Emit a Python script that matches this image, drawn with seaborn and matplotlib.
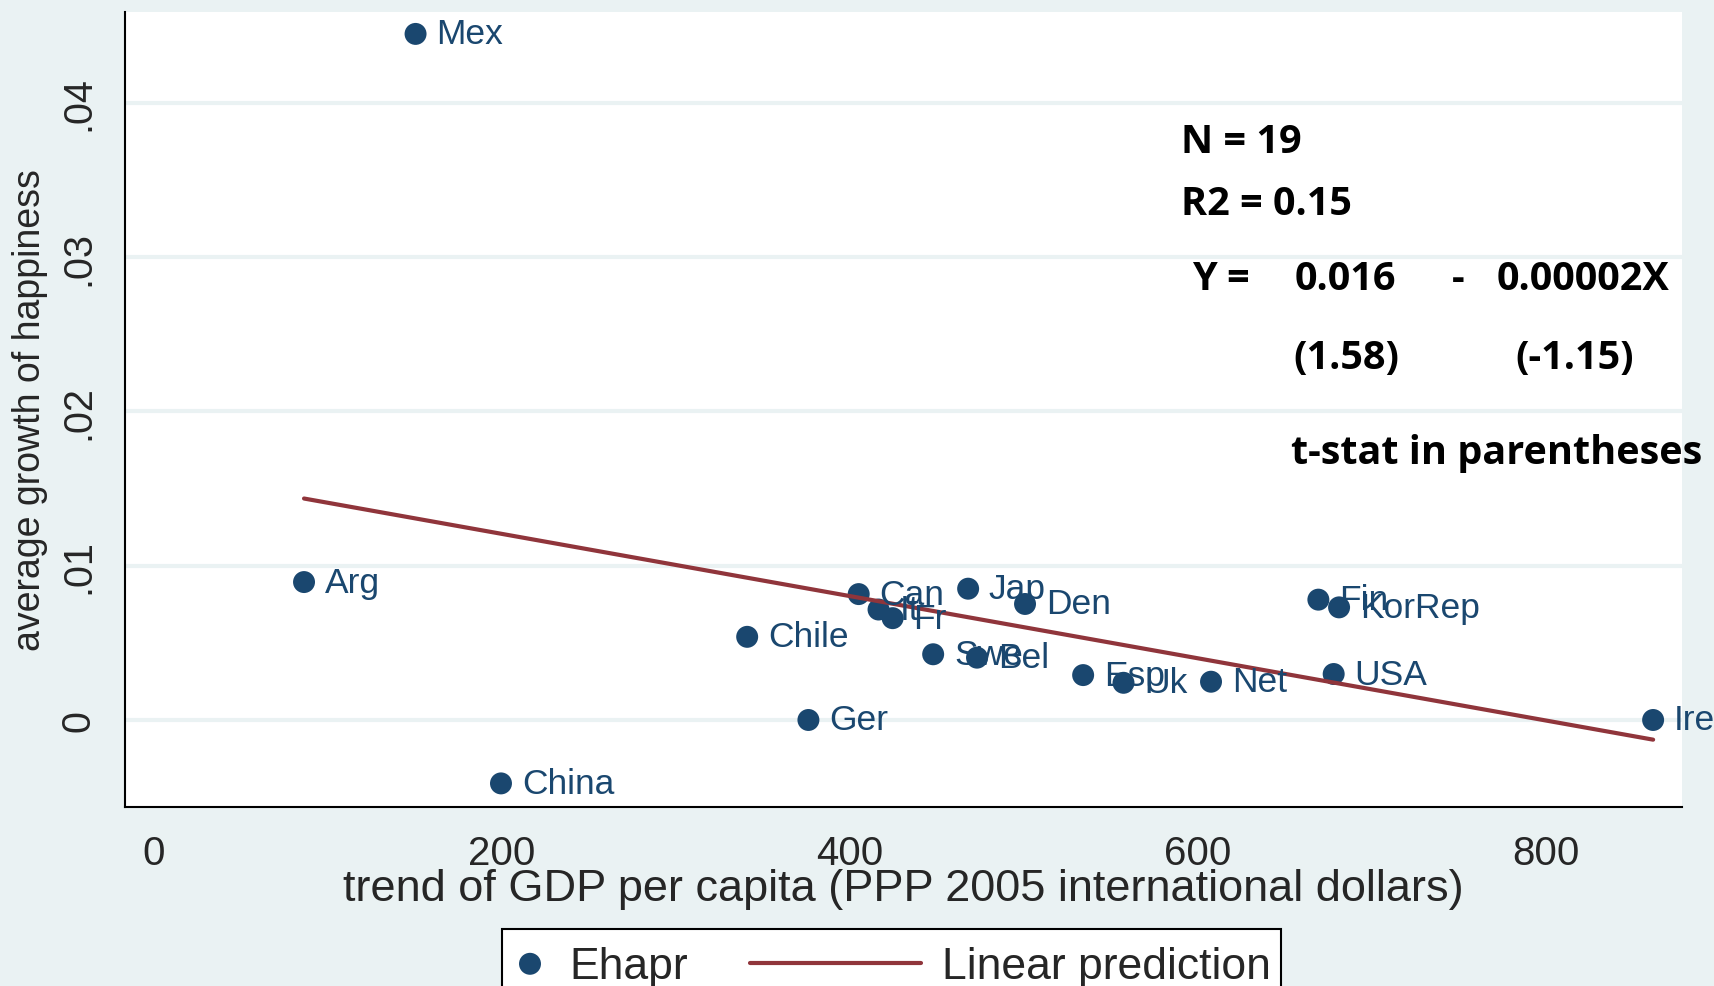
import matplotlib
matplotlib.use("Agg")
import matplotlib.pyplot as plt
import seaborn as sns
import pandas as pd
from matplotlib.lines import Line2D
from matplotlib.legend_handler import HandlerBase

# Country observations: trend GDP per capita vs. average happiness growth
countries = ["Mex", "Arg", "China", "Chile", "Ger", "Can", "It", "Fr", "Swe", "Jap",
             "Bel", "Den", "Esp", "Uk", "Net", "Fin", "KorRep", "USA", "Ire"]
gdp_trend = [150.3, 86.2, 199.4, 340.9, 376.1, 405.0, 416.4, 424.5, 447.8, 467.9,
             473.0, 500.6, 534.0, 557.2, 607.5, 669.2, 681.1, 678.0, 861.6]
happiness_growth = [0.04447, 0.00894, -0.00411, 0.00539, 0.0, 0.00816, 0.00716, 0.0066,
                    0.00426, 0.00851, 0.00404, 0.00752, 0.00291, 0.00241, 0.00248,
                    0.0078, 0.0073, 0.00298, 0.0]

x_ticks = [0, 200, 400, 600, 800]
y_ticks = [0, 0.01, 0.02, 0.03, 0.04]
y_tick_labels = ["0", ".01", ".02", ".03", ".04"]

x_title = "trend of GDP per capita (PPP 2005 international dollars)"
y_title = "average growth of happiness"
series_name = "Ehapr"
fit_name = "Linear prediction"

stats_lines = ["N = 19", "R2 = 0.15"]
eq_parts = ["Y =", "0.016", "-", "0.00002X"]
tstat_parts = ["(1.58)", "(-1.15)"]
tstat_note = "t-stat in parentheses"

df = pd.DataFrame({"country": countries, "gdp": gdp_trend, "hap": happiness_growth})

BG = "#eaf2f3"
NAVY = "#1a476f"
MAROON = "#90353b"

sns.set_style("white")
plt.rcParams["font.family"] = ["Liberation Sans", "DejaVu Sans"]

W, H = 1715, 987
fig = plt.figure(figsize=(W / 100, H / 100), dpi=100, facecolor=BG)
ax = fig.add_axes([125 / W, 1 - 808 / H, (1682 - 125) / W, (808 - 13) / H])
ax.set_facecolor("white")

sns.scatterplot(data=df, x="gdp", y="hap", color=NAVY, s=250, edgecolor="none",
                ax=ax, legend=False, zorder=3)
sns.regplot(data=df, x="gdp", y="hap", scatter=False, ci=None, truncate=True, ax=ax,
            line_kws=dict(color=MAROON, lw=3, zorder=4))

for name, xv, yv in zip(df["country"], df["gdp"], df["hap"]):
    ax.annotate(name, (xv, yv), xytext=(15, 0), textcoords="offset points",
                ha="left", va="center", fontsize=25.5, color=NAVY, zorder=5)

ax.set_xlim(-16.7, 878.2)
ax.set_ylim(-0.00564, 0.04589)

ax.set_xticks(x_ticks)
ax.set_yticks(y_ticks, y_tick_labels, rotation=90, va="center")
ax.tick_params(axis="x", length=11.5, width=1.5, pad=8, labelsize=29, color="black")
ax.tick_params(axis="y", length=13, width=1.5, pad=7, labelsize=28.5, color="black")

ax.set_axisbelow(True)
ax.yaxis.grid(True, color=BG, lw=3)
ax.xaxis.grid(False)

for side in ["top", "right"]:
    ax.spines[side].set_visible(False)
for side in ["left", "bottom"]:
    ax.spines[side].set_color("black")
    ax.spines[side].set_linewidth(1.5)

ax.set_xlabel(x_title, fontsize=32.5, va="center")
ax.xaxis.set_label_coords(0.5, (808 - 890) / (808 - 13))
ax.set_ylabel(y_title, fontsize=27, va="center")
ax.yaxis.set_label_coords((30 - 125) / (1682 - 125), 0.5)

# Regression statistics block
bold = dict(family=["Open Sans", "DejaVu Sans"], fontweight="bold", fontsize=28.5,
            color="black")
fig.text(1181 / W, 1 - 153 / H, stats_lines[0], ha="left", va="baseline", **bold)
fig.text(1181 / W, 1 - 215 / H, stats_lines[1], ha="left", va="baseline", **bold)
fig.text(1192 / W, 1 - 290 / H, eq_parts[0], ha="left", va="baseline", **bold)
fig.text(1295 / W, 1 - 290 / H, eq_parts[1], ha="left", va="baseline", **bold)
fig.text(1458 / W, 1 - 290 / H, eq_parts[2], ha="center", va="baseline", **bold)
fig.text(1497 / W, 1 - 290 / H, eq_parts[3], ha="left", va="baseline", **bold)
fig.text(1293 / W, 1 - 369 / H, tstat_parts[0], ha="left", va="baseline", **bold)
fig.text(1515 / W, 1 - 369 / H, tstat_parts[1], ha="left", va="baseline", **bold)
fig.text(1291 / W, 1 - 464 / H, tstat_note, ha="left", va="baseline", **bold)


class WideLineHandler(HandlerBase):
    """Legend line that stretches further left than its handle box."""

    def __init__(self, extra):
        super().__init__()
        self.extra = extra

    def create_artists(self, legend, orig_handle, xdescent, ydescent, width, height,
                       fontsize, trans):
        y = height / 2 - ydescent
        x0 = -xdescent - self.extra * fontsize
        x1 = -xdescent + width
        line = Line2D([x0, x1], [y, y], color=orig_handle.get_color(),
                      lw=orig_handle.get_linewidth())
        line.set_transform(trans)
        return [line]


scatter_handle = ax.collections[0]
fit_handle = ax.lines[0]
leg = ax.legend([scatter_handle, fit_handle], [series_name, fit_name],
                handler_map={fit_handle: WideLineHandler(3.05)},
                loc="upper left", bbox_to_anchor=(502 / W, 1 - 930 / H),
                bbox_transform=fig.transFigure, borderaxespad=0, ncol=2,
                fontsize=32, handlelength=0.8, handleheight=1.3, handletextpad=0.48,
                columnspacing=4.45, borderpad=0.23, scatterpoints=1,
                scatteryoffsets=[0.3],
                frameon=True, fancybox=False, facecolor="white", framealpha=1,
                edgecolor="black")
leg.get_frame().set_linewidth(1.5)

fig.savefig("out.png", dpi=100, facecolor=fig.get_facecolor())
